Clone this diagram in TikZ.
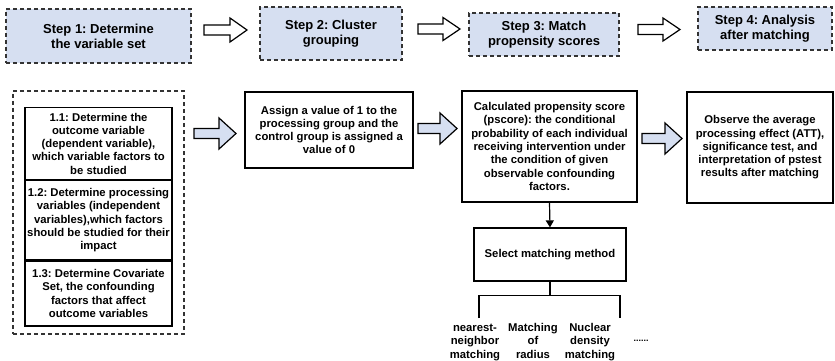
\documentclass[tikz,border=0pt]{standalone}
\usepackage{fontspec}
\setmainfont{Liberation Sans}
\usetikzlibrary{calc, positioning, arrows.meta}
\frenchspacing

\definecolor{stepblue}{RGB}{214,223,241}

% block arrow: style, start, tip, half shaft, half head
\newcommand{\blockarrow}[5]{%
  \draw[#1] ($(#2)+(0,-#4)$) -- ($(#3)+(-17,-#4)$) -- ($(#3)+(-17,-#5)$) -- (#3) -- ($(#3)+(-17,#5)$) -- ($(#3)+(-17,#4)$) -- ($(#2)+(0,#4)$) -- cycle;}

\tikzset{
  stepbox/.style={fill=stepblue, draw=black!80, dash pattern=on 4pt off 3pt, line width=1.3pt, align=center, inner sep=0pt, font=\fontsize{13}{15}\selectfont\bfseries},
  textbox/.style={draw, line width=1.2pt, align=center, inner sep=0pt, font=\fontsize{11.3}{13.3}\selectfont\bfseries},
  hollowarrow/.style={fill=white, draw, line width=1.2pt, line join=miter},
  bluearrow/.style={fill=stepblue, draw, line width=1.2pt, line join=miter},
  methodlabel/.style={align=center, inner sep=0pt, anchor=north, font=\fontsize{11.3}{13.3}\selectfont\bfseries}
}

\begin{document}
\begin{tikzpicture}[x=1pt, y=-1pt]
    \useasboundingbox (0,0) rectangle (835,361);

    % Steps
    \node (Step1) at (98.5,36) [stepbox, minimum width=185pt, minimum height=54pt]{Step 1: Determine\\the variable set};
    \node (Step2) at (331,33.5) [stepbox, minimum width=142pt, minimum height=53pt]{Step 2: Cluster\\grouping};
    \node (Step3) at (544,34.5) [stepbox, minimum width=150pt, minimum height=43pt]{Step 3: Match\\propensity scores};
    \node (Step4) at (765,28.5) [stepbox, minimum width=134pt, minimum height=43pt]{Step 4: Analysis\\after matching};

    \coordinate (Arrow1-Start) at (204,30);
    \coordinate (Arrow1-Tip) at (247,30);
    \coordinate (Arrow2-Start) at (418,29);
    \coordinate (Arrow2-Tip) at (460,29);
    \coordinate (Arrow3-Start) at (638,29.5);
    \coordinate (Arrow3-Tip) at (680,29.5);
    \blockarrow{hollowarrow}{Arrow1-Start}{Arrow1-Tip}{5}{12}
    \blockarrow{hollowarrow}{Arrow2-Start}{Arrow2-Tip}{5}{11.5}
    \blockarrow{hollowarrow}{Arrow3-Start}{Arrow3-Tip}{5}{11.5}

    %%%%%%%%%%%%%%%%%%%
    % Variable set
    \node (VariableSetBox) at (98.5,212.5) [draw=black!80, dash pattern=on 4pt off 3pt, line width=1.2pt, minimum width=171pt, minimum height=243pt]{};
    \node (Outcome) at (98.5,107) [textbox, anchor=north, minimum width=147pt, minimum height=72pt]{1.1: Determine the\\outcome variable\\(dependent variable),\\which variable factors to\\be studied};
    \node (Processing) at (Outcome.south) [textbox, anchor=north, minimum width=147pt, minimum height=79pt]{1.2: Determine processing\\variables (independent\\variables),which factors\\should be studied for their\\impact};
    \node (Covariate) at (Processing.south) [textbox, anchor=north, minimum width=147pt, minimum height=65pt]{1.3: Determine Covariate\\Set, the confounding\\factors that affect\\outcome variables};

    % Grouping
    \node (Assign) at (329,130) [textbox, minimum width=168pt, minimum height=76pt]{Assign a value of 1 to the\\processing group and the\\control group is assigned a\\value of 0};

    % Propensity score
    \node (Calculated) at (549.5,146.5) [textbox, minimum width=175pt, minimum height=111pt]{Calculated propensity score\\(pscore): the conditional\\probability of each individual\\receiving intervention under\\the condition of given\\observable confounding\\factors.};

    % Analysis
    \node (Observe) at (760,147.5) [textbox, minimum width=146pt, minimum height=111pt]{Observe the average\\processing effect (ATT),\\significance test, and\\interpretation of pstest\\results after matching};

    \coordinate (Arrow4-Start) at (194,133.5);
    \coordinate (Arrow4-Tip) at (236,133.5);
    \coordinate (Arrow5-Start) at (418,128.5);
    \coordinate (Arrow5-Tip) at (457,128.5);
    \coordinate (Arrow6-Start) at (642,138.5);
    \coordinate (Arrow6-Tip) at (682,138.5);
    \blockarrow{bluearrow}{Arrow4-Start}{Arrow4-Tip}{5}{15.5}
    \blockarrow{bluearrow}{Arrow5-Start}{Arrow5-Tip}{5}{15.5}
    \blockarrow{bluearrow}{Arrow6-Start}{Arrow6-Tip}{5}{15.5}

    %%%%%%%%%%%%%%%%%%%
    % Matching method
    \node (SelectMethod) at (550,254.5) [textbox, minimum width=152pt, minimum height=53pt]{Select matching method};
    \draw[-{Triangle[length=7pt,width=8pt]}, line width=1.2pt] (Calculated.south) -- (SelectMethod.north);

    \node (Nearest) at (475,322) [methodlabel]{\strut nearest-\\neighbor\\matching};
    \node (Radius) at (533,322) [methodlabel]{\strut Matching\\of\\radius};
    \node (Nuclear) at (590,322) [methodlabel]{\strut Nuclear\\density\\matching};
    \node (MoreMethods) at (641,341) [inner sep=0pt, font=\fontsize{9}{10}\selectfont\bfseries]{......};

    \coordinate (Split) at ($(SelectMethod.south)+(0,14)$);
    \coordinate (BranchLeft) at (479,318);
    \coordinate (BranchRight) at (620,318);
    \draw[line width=1.2pt] (SelectMethod.south) -- (Split);
    \draw[line width=1.2pt] (BranchLeft) |- (Split) -| (BranchRight);

\end{tikzpicture}
\end{document}
